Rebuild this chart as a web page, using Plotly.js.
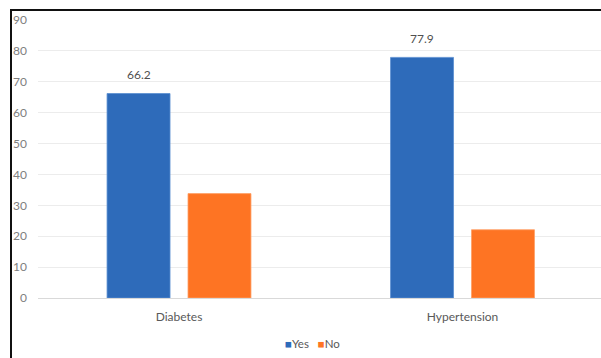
<!DOCTYPE html>
<html>
<head>
<meta charset="utf-8">
<script src="https://cdn.plot.ly/plotly-3.0.1.min.js"></script>
<style>
html,body{margin:0;padding:0;background:#fff;overflow:hidden;}
#wrap{position:relative;width:601px;height:358px;}
#chart{position:absolute;left:0;top:0;width:601px;height:358px;}
#frame{position:absolute;left:10px;top:9px;width:600px;height:360px;border-left:2px solid #111;border-top:2px solid #111;pointer-events:none;}
</style>
</head>
<body>
<div id="wrap"><div id="chart"></div><div id="frame"></div></div>
<script>
const categories = ["Diabetes", "Hypertension"];
const yesValues = [66.2, 77.9];
const noValues = [33.8, 22.1];
const yTicks = [0, 10, 20, 30, 40, 50, 60, 70, 80, 90];
const seriesNames = ["Yes", "No"];
const seriesColors = ["#2e6bba", "#fe7423"];

const FONT = "Lato, 'Open Sans', sans-serif";
const BARGAP = 0.429;
const PLOT_L = 38, PLOT_R = 601;
const XRANGE = [-0.4974, 1.4885];

// offset of the first bar's centre within a category, in pixels
const unitPx = (PLOT_R - PLOT_L) / (XRANGE[1] - XRANGE[0]);
const slotPx = unitPx * (1 - BARGAP) / 2;

const traces = [
  {
    type: "bar", name: seriesNames[0], x: categories, y: yesValues,
    marker: {color: seriesColors[0], line: {color: "#5a8ed0", width: 0.8}},
    hoverinfo: "none", showlegend: false
  },
  {
    type: "bar", name: seriesNames[1], x: categories, y: noValues,
    marker: {color: seriesColors[1], line: {color: "#ffa066", width: 0.8}},
    hoverinfo: "none", showlegend: false
  }
];

const annotations = categories.map((c, i) => ({
  x: c, y: yesValues[i], xref: "x", yref: "y",
  text: yesValues[i].toFixed(1), showarrow: false,
  xshift: -slotPx / 2, yshift: 19, yanchor: "middle",
  font: {family: FONT, size: 12, color: "#505050"}
}));

annotations.push({
  xref: "paper", yref: "paper", x: (312 - PLOT_L) / (PLOT_R - PLOT_L), y: -0.165,
  xanchor: "center", yanchor: "middle", showarrow: false,
  text: seriesNames.map((n, i) =>
    "<span style='color:" + seriesColors[i] + "'>■</span>" + n).join("&nbsp;&nbsp;&nbsp;"),
  font: {family: FONT, size: 11.5, color: "#595959"}
});

const layout = {
  width: 601, height: 358,
  margin: {l: PLOT_L, r: 601 - PLOT_R, t: 20, b: 60},
  paper_bgcolor: "#fff", plot_bgcolor: "#fff",
  font: {family: FONT, size: 12, color: "#595959"},
  barmode: "group", bargap: BARGAP, bargroupgap: 0.222,
  xaxis: {
    type: "category", range: XRANGE,
    showgrid: false, showline: false, zeroline: false, ticks: "",
    tickfont: {family: FONT, size: 12, color: "#595959"},
    ticklabelstandoff: 10
  },
  yaxis: {
    range: [0, 90], tickvals: yTicks, ticktext: yTicks.map(String),
    showgrid: true, gridcolor: "#ececec", gridwidth: 1,
    zeroline: true, zerolinecolor: "#d9d9d9", zerolinewidth: 1,
    showline: false, ticks: "",
    tickfont: {family: FONT, size: 12, color: "#808080"},
    ticklabelstandoff: 10
  },
  showlegend: false,
  annotations: annotations
};

Plotly.newPlot("chart", traces, layout, {displayModeBar: false, staticPlot: true});
</script>
</body>
</html>
